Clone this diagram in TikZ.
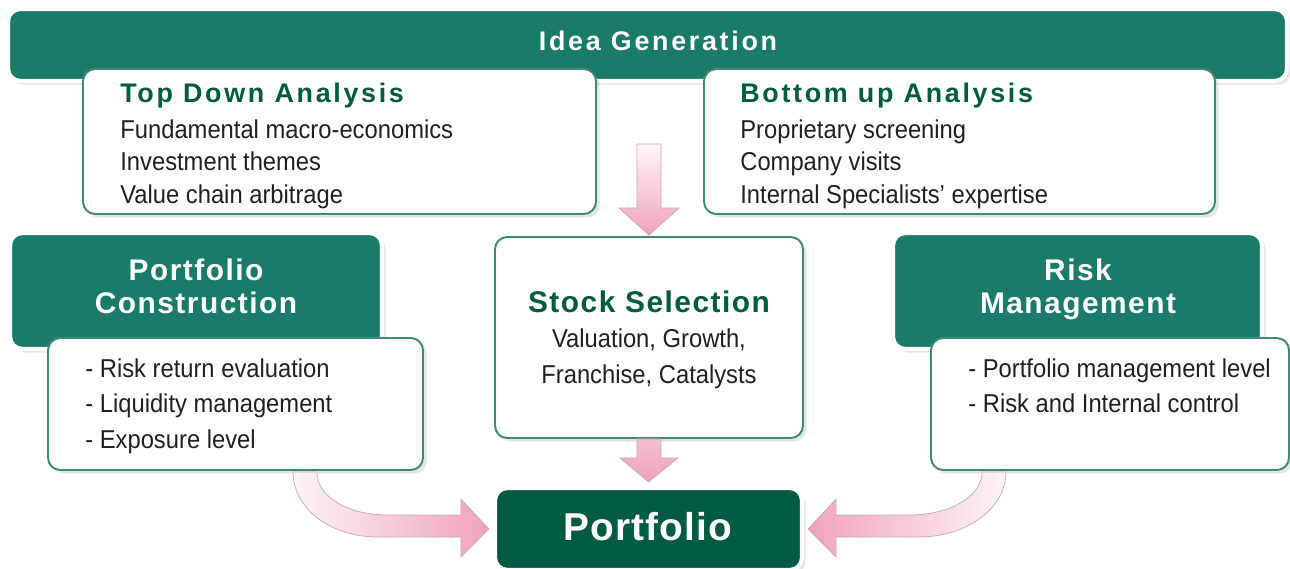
\documentclass[tikz,border=0pt]{standalone}
\usepackage{fontspec}
\setmainfont{Liberation Sans}[FakeStretch=0.92]
\newfontfamily\headfont{Liberation Sans}[LetterSpace=10]
\definecolor{ideateal}{RGB}{27,123,105}
\definecolor{portgreen}{RGB}{0,92,64}
\definecolor{titlegreen}{RGB}{0,92,62}
\definecolor{bordteal}{RGB}{62,138,118}
\definecolor{txtgray}{RGB}{35,31,32}
\definecolor{pinkarr}{RGB}{240,162,186}
\definecolor{pinkedge}{RGB}{140,60,80}
\usetikzlibrary{calc, fit, shadows}

\begin{document}
\begin{tikzpicture}[x=0.02cm, y=-0.02cm,
  wbox/.style={draw=bordteal, line width=1.1pt, fill=white, rounded corners=7pt, inner sep=0pt,
               drop shadow={shadow xshift=2pt, shadow yshift=-2pt, opacity=0.2}},
  dbox/.style={draw=white, line width=2.4pt, fill=ideateal, rounded corners=7pt, inner sep=0pt,
               drop shadow={shadow xshift=2pt, shadow yshift=-2pt, opacity=0.2}},
  headtxt/.style={font=\headfont\bfseries\fontsize{15.3}{18}\selectfont, inner sep=0pt},
  midtxt/.style={font=\headfont\bfseries\fontsize{17}{18.7}\selectfont\addfontfeature{LetterSpace=5},
                 text=white, inner sep=0pt, align=center},
  porttxt/.style={font=\headfont\bfseries\fontsize{22.1}{26}\selectfont\addfontfeature{LetterSpace=3},
                  text=white, inner sep=0pt},
  boxtxt/.style={font=\fontsize{14.7}{#1}\selectfont, text=txtgray, inner sep=0pt},
  boxtxt/.default=18.4,
  pinkarrow/.style={draw=pinkedge!45, line width=0.4pt},
]
\fill[white] (0,0) rectangle (1290,568);
\useasboundingbox (0,0) rectangle (1290,568);

% Idea generation
\node[dbox, fit={(8,9) (1287,81)}] (idea) {};
\node[headtxt, text=white, anchor=base] (ideat) at (658,50) {Idea Generation};

\node[wbox, fit={(83,69) (596,214)}] (topd) {};
\node[headtxt, text=titlegreen, anchor=base west] (topdt) at (120,102) {Top Down Analysis};
\node[boxtxt, align=left, anchor=north west] (topdl) at (120,119.4)
  {Fundamental macro-economics\\Investment themes\\Value chain arbitrage};

\node[wbox, fit={(704,69) (1215,214)}] (botu) {};
\node[headtxt, text=titlegreen, anchor=base west] (botut) at (740,102) {Bottom up Analysis};
\node[boxtxt, align=left, anchor=north west] (botul) at (740,119.4)
  {Proprietary screening\\Company visits\\Internal Specialists’ expertise};

% Portfolio construction
\node[dbox, fit={(10,233) (382,349)}] (pcd) {};
\node[midtxt, anchor=north] (pcdt) at (196,258.2) {Portfolio\\Construction};
\node[wbox, fit={(48,338) (423,470)}] (pcl) {};
\node[boxtxt=20.1, align=left, anchor=north west] (pcll) at (85,358.4)
  {- Risk return evaluation\\- Liquidity management\\- Exposure level};

% Stock selection
\node[wbox, fit={(495,237) (803,438)}] (stock) {};
\node[midtxt, text=titlegreen, anchor=base] (stockt) at (649,312) {Stock Selection};
\node[boxtxt=20.4, align=center, anchor=north] (stockl) at (649,328.8)
  {Valuation, Growth,\\Franchise, Catalysts};

% Risk management
\node[dbox, fit={(893,233) (1262,349)}] (rmd) {};
\node[midtxt, anchor=north] (rmdt) at (1078,258.5) {Risk\\Management};
\node[wbox, fit={(931,338) (1289,470)}] (rml) {};
\node[boxtxt=20.1, align=left, anchor=north west] (rmll) at (968,358)
  {- Portfolio management level\\- Risk and Internal control};

% Portfolio
\node[dbox, fill=portgreen, fit={(495,488) (802,570)}] (port) {};
\node[porttxt, anchor=base] (portt) at (648,540) {Portfolio};

% Block arrows
\draw[pinkarrow, top color=pinkarr!8!white, bottom color=pinkarr]
  ($(stock.north)+(-12,-92)$) -- ($(stock.north)+(12,-92)$) -- ($(stock.north)+(12,-28)$)
  -- ($(stock.north)+(30,-28)$) -- ($(stock.north)+(0,-1)$) -- ($(stock.north)+(-30,-28)$)
  -- ($(stock.north)+(-12,-28)$) -- cycle;
\draw[pinkarrow, top color=pinkarr!70!white, bottom color=pinkarr]
  ($(stock.south)+(-12,0)$) -- ($(stock.south)+(12,0)$) -- ($(stock.south)+(12,19)$)
  -- ($(stock.south)+(29,19)$) -- ($(port.north)+(0,-4)$) -- ($(stock.south)+(-29,19)$)
  -- ($(stock.south)+(-12,19)$) -- cycle;
\draw[pinkarrow, left color=pinkarr!12!white, right color=pinkarr]
  ($(pcl.south)+(57.5,1)$) .. controls +(0,36) and +(-48,0) .. ($(port.west)+(-115,8)$)
  -- ($(port.west)+(-32,8)$) -- ($(port.west)+(-32,28)$) -- ($(port.west)+(-4,0)$)
  -- ($(port.west)+(-32,-30)$) -- ($(port.west)+(-32,-14)$) -- ($(port.west)+(-105,-14)$)
  .. controls +(-40,0) and +(0,25) .. ($(pcl.south)+(81.5,1)$) -- cycle;
\draw[pinkarrow, left color=pinkarr, right color=pinkarr!12!white]
  ($(rml.south)+(-104,1)$) .. controls +(0,36) and +(48,0) .. ($(port.east)+(115,8)$)
  -- ($(port.east)+(32,8)$) -- ($(port.east)+(32,28)$) -- ($(port.east)+(4,0)$)
  -- ($(port.east)+(32,-30)$) -- ($(port.east)+(32,-14)$) -- ($(port.east)+(105,-14)$)
  .. controls +(40,0) and +(0,25) .. ($(rml.south)+(-128,1)$) -- cycle;
\end{tikzpicture}
\end{document}
